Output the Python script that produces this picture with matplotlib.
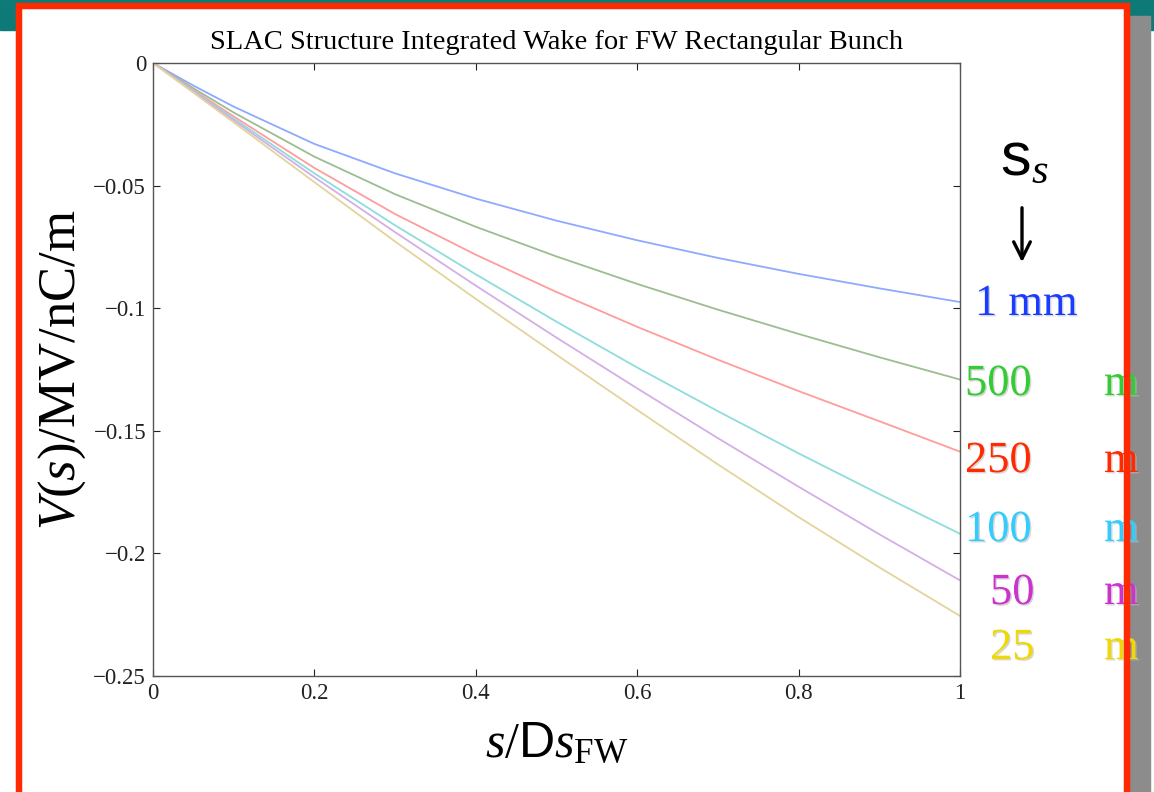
import matplotlib
matplotlib.use("Agg")
import matplotlib.pyplot as plt
from matplotlib.patches import Rectangle
import matplotlib.patheffects as pe

plt.rcParams['font.family'] = ['Liberation Serif', 'DejaVu Serif']
plt.rcParams['mathtext.fontset'] = 'custom'
plt.rcParams['mathtext.rm'] = 'Liberation Serif'
plt.rcParams['mathtext.it'] = 'Liberation Serif:italic'
plt.rcParams['mathtext.sf'] = 'Liberation Sans'

# data
s = [0, 0.05, 0.1, 0.2, 0.3, 0.4, 0.5, 0.6, 0.7, 0.8, 0.9, 1.0]
w_1mm = [0, -0.0092, -0.0178, -0.0330, -0.0450, -0.0553, -0.0643, -0.0723, -0.0795, -0.0860, -0.0919, -0.0975]
w_500 = [0, -0.0103, -0.0202, -0.0382, -0.0535, -0.0668, -0.0789, -0.0901, -0.1006, -0.1105, -0.1200, -0.1291]
w_250 = [0, -0.0110, -0.0218, -0.0428, -0.0616, -0.0782, -0.0934, -0.1076, -0.1210, -0.1338, -0.1461, -0.1585]
w_100 = [0, -0.0114, -0.0227, -0.0450, -0.0662, -0.0862, -0.1055, -0.1242, -0.1420, -0.1592, -0.1758, -0.1920]
w_50 = [0, -0.0117, -0.0234, -0.0466, -0.0690, -0.0908, -0.1120, -0.1327, -0.1530, -0.1728, -0.1922, -0.2110]
w_25 = [0, -0.0121, -0.0242, -0.0486, -0.0728, -0.0962, -0.1190, -0.1415, -0.1637, -0.1852, -0.2057, -0.2255]

series = [w_1mm, w_500, w_250, w_100, w_50, w_25]
line_colors = ['#8eaaff', '#9cbc92', '#ff9c9c', '#8edcdc', '#d4aee6', '#e2d49c']
label_names = ['1 mm', '500', '250', '100', '50', '25']
label_colors = ['#1a3cff', '#33cc33', '#ff2a00', '#33ccff', '#cc33cc', '#f0d800']

fig = plt.figure(figsize=(11.54, 7.92), dpi=100)

# slide background
bg = fig.add_axes([0, 0, 1, 1])
bg.set_xlim(0, 1154)
bg.set_ylim(792, 0)
bg.axis('off')
bg.add_patch(Rectangle((0, 0), 1154, 30, color='#0e7a78'))
bg.add_patch(Rectangle((1128, 16), 22, 800, color='#8c8c8c'))
bg.add_patch(Rectangle((19, 6), 1108, 800, facecolor='white', edgecolor='#ff2a00', linewidth=4.5))

ax = fig.add_axes([153 / 1154, 1 - 676 / 792, 807 / 1154, 613 / 792])
for ys, c in zip(series, line_colors):
    ax.plot(s, ys, color=c, linewidth=1.3)

ax.set_xlim(0, 1)
ax.set_ylim(-0.25, 0)
ax.set_xticks([0, 0.2, 0.4, 0.6, 0.8, 1])
ax.set_xticklabels(['0', '0.2', '0.4', '0.6', '0.8', '1'])
ax.set_yticks([0, -0.05, -0.1, -0.15, -0.2, -0.25])
ax.set_yticklabels(['0', '\u22120.05', '\u22120.1', '\u22120.15', '\u22120.2', '\u22120.25'])
ax.tick_params(direction='in', length=5, width=0.8, top=True, right=True,
               labelsize=16.5, colors='#222222', pad=5)
for sp in ax.spines.values():
    sp.set_color('#555555')
    sp.set_linewidth(1.0)

ax.set_title('SLAC Structure Integrated Wake for FW Rectangular Bunch', fontsize=20.5, pad=10)
ax.set_xlabel(r'$\mathit{s}/\mathsf{D}\mathit{s}_{\mathrm{FW}}$', fontsize=36, labelpad=13)
ax.set_ylabel(r'$\mathit{V}(\mathit{s})/\mathrm{MV/nC/m}$', fontsize=38, labelpad=4)

# sigma_s labels on the right
shadow = [pe.withSimplePatchShadow(offset=(1, -1), shadow_rgbFace='#bbbbbb', alpha=0.6)]
bg.text(1000, 160, r'$\mathsf{s}_{\mathit{s}}$', fontsize=44,
        ha='left', va='center', color='black')
bg.annotate('', xy=(1022, 265), xytext=(1022, 205),
            arrowprops=dict(arrowstyle='->', color='black', lw=2.4, mutation_scale=30))

ys_px = [304, 384, 461, 530, 593, 648]
xs_px = [975, 965, 965, 965, 990, 990]
for name, c, x, y in zip(label_names, label_colors, xs_px, ys_px):
    bg.text(x, y, name, color=c, fontsize=32, ha='left', va='center', path_effects=shadow)
    if name != '1 mm':
        bg.text(1104, y, 'm', color=c, fontsize=32, ha='left', va='center', path_effects=shadow)

# border drawn over the labels
bg.add_patch(Rectangle((19, 6), 1108, 800, facecolor='none', edgecolor='#ff2a00', linewidth=4.5, zorder=5))

fig.savefig('out.png', dpi=100)
